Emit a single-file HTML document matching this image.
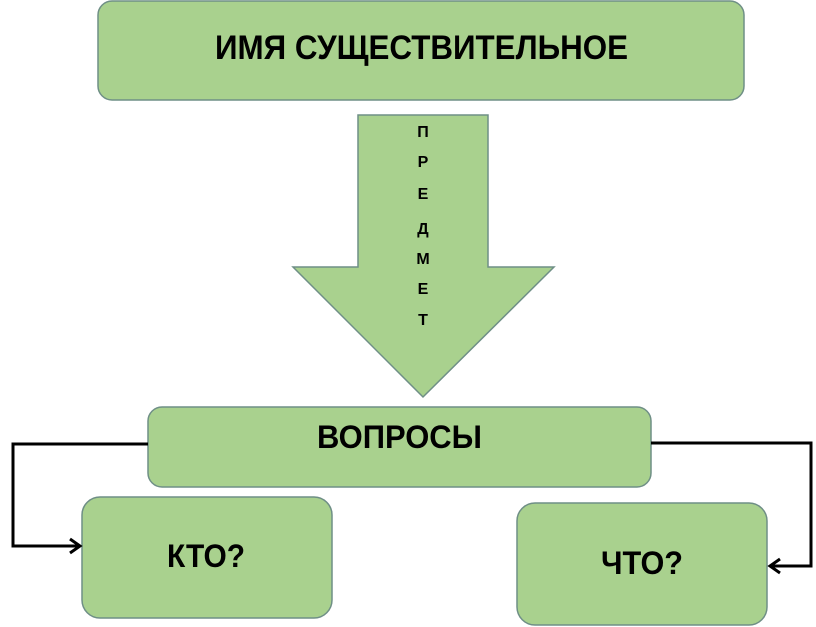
<!DOCTYPE html>
<html><head><meta charset="utf-8"><style>
html,body{margin:0;padding:0;background:#fff;}
svg{display:block;}
text{font-family:"Liberation Sans",sans-serif;font-weight:bold;fill:#000;}
</style></head><body>
<svg width="816" height="627" viewBox="0 0 816 627" xmlns="http://www.w3.org/2000/svg">
<g fill="#a9d18e" stroke="#6f8f86" stroke-width="1.5">
<rect x="98" y="1" width="646" height="99" rx="14"/>
<polygon points="358,115 488,115 488,267 554,267 423,397 293,267 358,267"/>
<rect x="148" y="407" width="503" height="80" rx="14"/>
<rect x="82" y="497" width="250" height="121" rx="18"/>
<rect x="517" y="503" width="250" height="122" rx="18"/>
</g>
<g fill="none" stroke="#000" stroke-width="3">
<polyline points="148,444 13,444 13,546 80,546"/>
<polyline points="70,539 80,546 70,553"/>
<polyline points="651,443 811,443 811,566 770,566"/>
<polyline points="780,559 770,566 780,573"/>
</g>
<text x="215" y="59" font-size="34" textLength="413" lengthAdjust="spacingAndGlyphs">ИМЯ СУЩЕСТВИТЕЛЬНОЕ</text>
<text x="317" y="448" font-size="32" textLength="165" lengthAdjust="spacingAndGlyphs">ВОПРОСЫ</text>
<text x="167" y="567" font-size="32" textLength="78" lengthAdjust="spacingAndGlyphs">КТО?</text>
<text x="601" y="574" font-size="32" textLength="82" lengthAdjust="spacingAndGlyphs">ЧТО?</text>
<g font-size="16" text-anchor="middle">
<text x="423" y="137">П</text>
<text x="423" y="167">Р</text>
<text x="423" y="199">Е</text>
<text x="423" y="234">Д</text>
<text x="423" y="264">М</text>
<text x="423" y="294">Е</text>
<text x="423" y="325">Т</text>
</g>
</svg>
</body></html>
